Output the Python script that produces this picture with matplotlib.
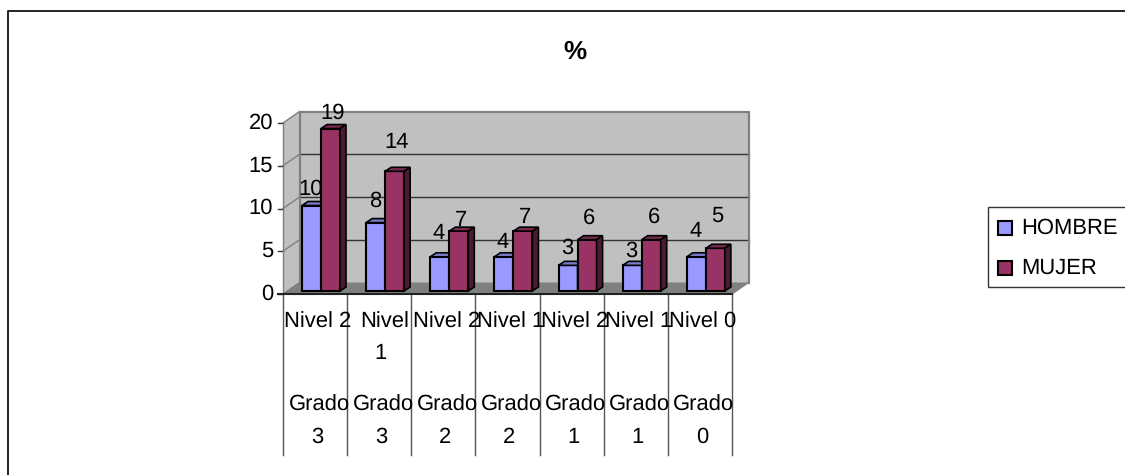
import matplotlib
matplotlib.use("Agg")
import matplotlib.pyplot as plt
from matplotlib.lines import Line2D
from matplotlib.patches import Polygon, Rectangle

plt.rcParams['font.family'] = ['Liberation Sans', 'DejaVu Sans']
plt.rcParams['text.hinting'] = 'no_hinting'
plt.rcParams['text.hinting_factor'] = 1

title = "%"
levels = ["Nivel 2", "Nivel 1", "Nivel 2", "Nivel 1", "Nivel 2", "Nivel 1", "Nivel 0"]
grades = ["Grado 3", "Grado 3", "Grado 2", "Grado 2", "Grado 1", "Grado 1", "Grado 0"]
hombre = [10, 8, 4, 4, 3, 3, 4]
mujer = [19, 14, 7, 7, 6, 6, 5]
yticks = [0, 5, 10, 15, 20]
series_names = ["HOMBRE", "MUJER"]

C_H, C_H_TOP = "#9999FF", "#7A7ACC"
C_M, C_M_TOP, C_M_SIDE = "#993366", "#7A2952", "#4D1A33"
W, H = 1125, 475
FS = 16

fig = plt.figure(figsize=(W / 100, H / 100), dpi=100)
# outer frame: only left and top edges fall inside the picture
fig.add_artist(Line2D([7.5 / W, 7.5 / W, 1], [0, 1 - 11 / H, 1 - 11 / H], transform=fig.transFigure,
                      color="#222222", lw=1.4))
fig.text(575 / W, 1 - 52 / H, title, fontsize=19, fontweight="bold", ha="center", va="center")

# Axes = front plane of the 3-D box
L, R, B, T = 283, 732, 294, 123
ax = fig.add_axes([L / W, 1 - B / H, (R - L) / W, (B - T) / H])
n = len(levels)
ax.set_xlim(0, n)
ax.set_ylim(0, 20)
ax.axis("off")
sx = n / (R - L)       # data units per pixel, x
sy = 20 / (B - T)      # data units per pixel, y
dx, dy = 16.5 * sx, 11.5 * sy   # depth of box

ax.add_patch(Polygon([(dx, dy), (n + dx, dy), (n + dx, 20 + dy), (dx, 20 + dy)], fc="#C0C0C0", ec="none", clip_on=False, zorder=1))
ax.add_patch(Polygon([(0, 0), (dx, dy), (dx, 20 + dy), (0, 20)], fc="#C0C0C0", ec="none", clip_on=False, zorder=1))
ax.add_patch(Polygon([(0, 0), (n, 0), (n + dx, dy), (dx, dy)], fc="#808080", ec="none", clip_on=False, zorder=1))
for v in yticks[1:-1]:
    ax.plot([dx, n + dx], [v + dy, v + dy], color="#333333", lw=1.0, clip_on=False, zorder=2)
# wall edges
ax.plot([dx, dx, n + dx, n + dx], [dy, 20 + dy, 20 + dy, dy], color="#808080", lw=1.6, clip_on=False, zorder=2)
# value axis ticks and diagonals
for v in yticks:
    ax.plot([0, dx], [v, v + dy], color="#808080", lw=1.0, clip_on=False, zorder=2)
    ax.plot([-5 * sx, 0], [v, v], color="#333333", lw=1.0, clip_on=False, zorder=2)
    ax.text(-10 * sx, v, str(v), fontsize=FS, ha="right", va="center", clip_on=False)
ax.plot([0, 0], [0, 20], color="#808080", lw=1.0, clip_on=False, zorder=2)
ax.plot([-5 * sx, n], [0, 0], color="#222222", lw=1.5, clip_on=False, zorder=3)
ax.plot([n, n + dx], [0, dy], color="#808080", lw=1.0, clip_on=False, zorder=2)

# Bars
bw = 19.0 * sx
bx0, by0 = 19.0 * sx, 3 * sy
bdx, bdy = 6 * sx, 4 * sy


def bar3d(x, val, front, top, side, z):
    ax.bar(x, val, width=bw, bottom=by0, align="edge", color=front, ec="black", lw=1.5, zorder=z, clip_on=False)
    yt = by0 + val
    ax.add_patch(Polygon([(x, yt), (x + bdx, yt + bdy), (x + bw + bdx, yt + bdy), (x + bw, yt)],
                         fc=top, ec="black", lw=1.2, zorder=z, clip_on=False))
    ax.add_patch(Polygon([(x + bw, by0), (x + bw + bdx, by0 + bdy), (x + bw + bdx, yt + bdy), (x + bw, yt)],
                         fc=side, ec="black", lw=1.2, zorder=z, clip_on=False))


label_dy_h = [2.28, 2.88, 3.13, 2.08, 2.38, 2.03, 3.37]
label_dy_m = [2.17, 3.78, 1.65, 2.0, 2.89, 3.0, 4.12]
for i in range(n):
    xh = i + bx0
    xm = xh + bw
    bar3d(xh, hombre[i], C_H, C_H_TOP, C_H_TOP, 4)
    bar3d(xm, mujer[i], C_M, C_M_TOP, C_M_SIDE, 5)
    ax.text(xh + bw * 0.45, hombre[i] + label_dy_h[i], str(hombre[i]), fontsize=FS, ha="center", va="center", zorder=7, clip_on=False)
    ax.text(xm + bw * 0.62, mujer[i] + label_dy_m[i], str(mujer[i]), fontsize=FS, ha="center", va="center", zorder=7, clip_on=False)

# Multi-level category labels
bottom_px = 455
for i in range(n + 1):
    ax.plot([i, i], [0, -(bottom_px - B) * sy], color="#555555", lw=1.0, clip_on=False, zorder=2)


def lab(i, s, ypx, xoff):
    ax.text(i + 0.5 + xoff * sx, -(ypx - B) * sy, s, fontsize=FS, ha="center", va="center", zorder=6, clip_on=False)


for i in range(n):
    if i == 1:
        word, num = levels[i].split()
        lab(i, word, 322, 5)
        lab(i, num, 353, 1)
    else:
        lab(i, levels[i], 322, 3)
    word, num = grades[i].split()
    lab(i, word, 405, 4)
    lab(i, num, 437, 2)

# Legend
fig.add_artist(Rectangle((987.5 / W, 1 - 287 / H), (W - 987 + 5) / W, 80 / H, transform=fig.transFigure,
                         fc="white", ec="#333333", lw=1.0))
for name, col, yp in zip(series_names, [C_H, C_M], [228, 268]):
    fig.add_artist(Rectangle((998 / W, 1 - (yp + 7) / H), 14 / W, 14 / H, transform=fig.transFigure,
                             fc=col, ec="black", lw=1.5))
    fig.text(1021 / W, 1 - yp / H, name, fontsize=FS, ha="left", va="center")

fig.savefig("out.png", dpi=100)
